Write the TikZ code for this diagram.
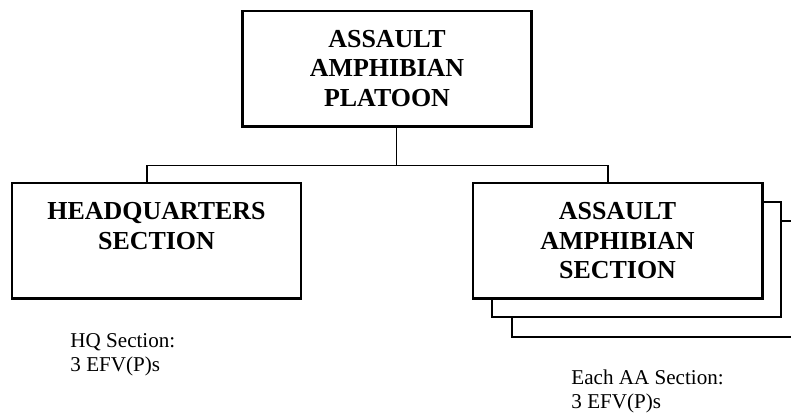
\documentclass[tikz,border=0pt]{standalone}
\usepackage{fontspec}
\setmainfont{Liberation Serif}
\usetikzlibrary{positioning, calc}

\tikzset{
  unitbox/.style={draw, line width=1.3pt, fill=white, minimum width=4.82cm, minimum height=1.92cm, inner sep=0pt, align=center, font=\fontsize{12.3}{14.2}\selectfont\bfseries},
  backbox/.style={unitbox, line width=1pt},
  link/.style={line width=0.6pt},
  note/.style={align=left, inner sep=0pt, anchor=north west, font=\fontsize{10}{11.6}\selectfont}
}

\begin{document}
\begin{tikzpicture}
    \useasboundingbox (0,0) rectangle (13.183,6.867);
    \clip (0,0) rectangle (13.183,6.867);

    % Platoon
    \node[unitbox] (plt) at (6.45,5.725) {ASSAULT\\AMPHIBIAN\\PLATOON};

    % Headquarters section
    \node[unitbox] (hq) at (2.608,2.858) {HEADQUARTERS\\SECTION\\\mbox{}};

    % Assault amphibian sections, stacked
    \node[backbox] (aa3) at (10.942,2.217) {};
    \node[backbox] (aa2) at (10.608,2.542) {};
    \node[unitbox] (aa) at (10.292,2.858) {ASSAULT\\AMPHIBIAN\\SECTION};

    % Connectors
    \draw[link] ([xshift=0.158cm]plt.south) -- ++(0,-0.633) coordinate (bus);
    \draw[link] ([xshift=-0.158cm]hq.north) |- (bus) -| ([xshift=-0.158cm]aa.north);

    % Vehicle counts
    \node[note] (hqnote) at (1.167,1.317) {HQ Section:\\3 EFV(P)s};
    \node[note] (aanote) at (9.517,0.717) {Each AA Section:\\3 EFV(P)s};
\end{tikzpicture}
\end{document}
